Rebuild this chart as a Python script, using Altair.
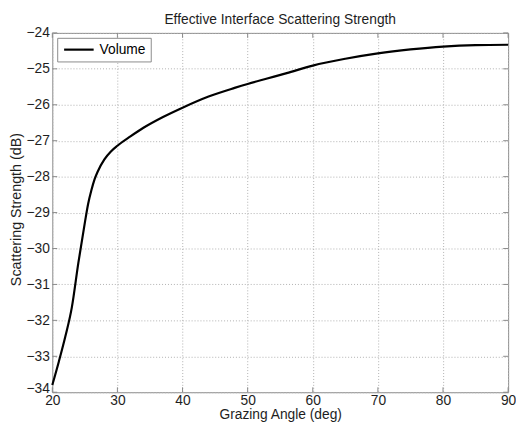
import altair as alt
import pandas as pd

# Data
angles = [20, 21, 22, 23, 24, 25, 25.5, 26, 26.5, 27, 28, 29, 30, 32, 34, 37, 40,
          44, 48, 50, 53, 56, 60, 65, 70, 75, 80, 85, 90]
strength = [-33.8, -33.15, -32.45, -31.64, -30.4, -29.28, -28.76, -28.38, -28.07,
            -27.85, -27.52, -27.3, -27.14, -26.88, -26.64, -26.34, -26.08,
            -25.77, -25.53, -25.42, -25.27, -25.12, -24.91, -24.72, -24.57, -24.46,
            -24.38, -24.34, -24.33]
series_name = "Volume"
x_ticks = [20, 30, 40, 50, 60, 70, 80, 90]
y_ticks = [-34, -33, -32, -31, -30, -29, -28, -27, -26, -25, -24]

W, H = 463, 365
FONT = "Liberation Sans"
TXT = "#1e1e1e"
GRID = "#b0b0b0"
FRAME = "#8a8a8a"

df = pd.DataFrame({"angle": angles, "value": strength, "series": series_name})
xt = pd.DataFrame({"angle": x_ticks})
yt = pd.DataFrame({"value": y_ticks})

xscale = alt.Scale(domain=[20, 90], nice=False, zero=False)
yscale = alt.Scale(domain=[-34, -24], nice=False, zero=False)

xaxis = alt.Axis(values=x_ticks, grid=True, gridDash=[1, 2], gridColor=GRID,
                 domain=False, ticks=False, labelPadding=1,
                 labelFlush=False, labelOverlap=False, format="d",
                 titleFontSize=14, titleBaseline="alphabetic", titleY=27)
yaxis = alt.Axis(values=y_ticks, grid=True, gridDash=[1, 2], gridColor=GRID,
                 domain=False, ticks=False, labelPadding=3,
                 labelFlush=False, labelOverlap=False, format="d",
                 labelOffset={"condition": {"test": "datum.value == -34", "value": -4},
                              "value": 0},
                 titleFontSize=14.5, titleBaseline="middle", titleX=-36, titleY=179)
XT = "Grazing Angle (deg)"
YT = "Scattering Strength (dB)"

line = alt.Chart(df).mark_line(strokeWidth=2.2, interpolate="monotone").encode(
    x=alt.X("angle:Q", scale=xscale, title=XT, axis=xaxis),
    y=alt.Y("value:Q", scale=yscale, title=YT, axis=yaxis),
    color=alt.Color("series:N", scale=alt.Scale(range=["#000000"]),
                    legend=alt.Legend(title=None, orient="none", legendX=5, legendY=5,
                                      fillColor="white", strokeColor=FRAME, padding=5,
                                      symbolType="M-3,0H3", symbolSize=100,
                                      symbolOffset=10,
                                      symbolStrokeWidth=2.2, labelFontSize=14,
                                      labelFont=FONT, labelColor="#000000",
                                      labelOffset=14)),
)

tick_bottom = alt.Chart(xt).mark_rule(color=FRAME, strokeWidth=1).encode(
    x=alt.X("angle:Q", scale=xscale, title=XT, axis=xaxis), y=alt.value(H), y2=alt.value(H - 5))
tick_top = alt.Chart(xt).mark_rule(color=FRAME, strokeWidth=1).encode(
    x=alt.X("angle:Q", scale=xscale, title=XT, axis=xaxis), y=alt.value(0), y2=alt.value(5))
tick_left = alt.Chart(yt).mark_rule(color=FRAME, strokeWidth=1).encode(
    y=alt.Y("value:Q", scale=yscale, title=YT, axis=yaxis), x=alt.value(0), x2=alt.value(5))
tick_right = alt.Chart(yt).mark_rule(color=FRAME, strokeWidth=1).encode(
    y=alt.Y("value:Q", scale=yscale, title=YT, axis=yaxis), x=alt.value(W), x2=alt.value(W - 5))

chart = alt.layer(line, tick_bottom, tick_top, tick_left, tick_right).properties(
    width=W, height=H,
    title=alt.Title("Effective Interface Scattering Strength", fontSize=14, font=FONT,
                    fontWeight="normal", color=TXT, offset=7, dy=8, frame="group"),
    padding={"left": 45, "top": 22, "right": 8, "bottom": 31},
    autosize=alt.AutoSizeParams(type="none"),
).configure_view(stroke=FRAME, strokeWidth=1).configure_axis(
    labelFont=FONT, labelFontSize=14, labelColor=TXT,
    titleFont=FONT, titleFontWeight="normal", titleColor=TXT,
)

chart.save("out.html", embed_options={"renderer": "svg", "actions": False})
